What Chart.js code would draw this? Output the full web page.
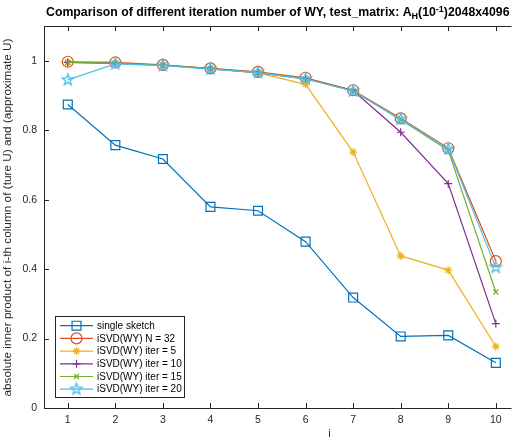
<!DOCTYPE html>
<html>
<head>
<meta charset="utf-8">
<script src="https://cdn.jsdelivr.net/npm/chart.js@4/dist/chart.umd.min.js"></script>
<style>
  html, body { margin: 0; padding: 0; background: #fff; }
  #wrap { width: 519px; height: 441px; position: relative; }
</style>
</head>
<body>
<div id="wrap"><canvas id="cmp"></canvas></div>
<script>
// --- data ---
const iVals = [1, 2, 3, 4, 5, 6, 7, 8, 9, 10];
const singleSketch = [0.874, 0.757, 0.717, 0.579, 0.568, 0.479, 0.318, 0.206, 0.209, 0.130];
const wyN32 = [0.997, 0.995, 0.988, 0.978, 0.968, 0.951, 0.915, 0.834, 0.748, 0.423];
const wyIter5 = [0.995, 0.993, 0.987, 0.977, 0.965, 0.932, 0.737, 0.438, 0.397, 0.177];
const wyIter10 = [0.995, 0.993, 0.987, 0.977, 0.966, 0.948, 0.914, 0.794, 0.646, 0.243];
const wyIter15 = [0.995, 0.993, 0.987, 0.977, 0.966, 0.948, 0.913, 0.830, 0.742, 0.334];
const wyIter20 = [0.945, 0.991, 0.986, 0.976, 0.966, 0.948, 0.913, 0.832, 0.746, 0.405];
const yTicks = [0, 0.2, 0.4, 0.6, 0.8, 1];
const seriesNames = ['single sketch', 'iSVD(WY) N = 32', 'iSVD(WY) iter = 5',
  'iSVD(WY) iter = 10', 'iSVD(WY) iter = 15', 'iSVD(WY) iter = 20'];

const FONT = '"Liberation Sans", Arial, Helvetica, sans-serif';
const AXIS = '#262626';

// pentagram marker (no built-in for it)
function makePentagram(color, r) {
  const c = document.createElement('canvas');
  const s = Math.ceil(r * 2 + 4);
  c.width = s; c.height = s;
  const g = c.getContext('2d');
  g.strokeStyle = color;
  g.lineWidth = 1.3;
  g.beginPath();
  for (let k = 0; k < 10; k++) {
    const rad = k % 2 === 0 ? r : r * 0.4;
    const a = -Math.PI / 2 + k * Math.PI / 5;
    const px = s / 2 + rad * Math.cos(a), py = s / 2 + rad * Math.sin(a);
    if (k === 0) g.moveTo(px, py); else g.lineTo(px, py);
  }
  g.closePath();
  g.stroke();
  return c;
}

const colors = ['#0072BD', '#D95319', '#EDB120', '#7E2F8E', '#77AC30', '#4DBEEE'];
const starImg = makePentagram(colors[5], 6);
const markers = [
  { style: 'rect', r: 6.3 },
  { style: 'circle', r: 5.5 },
  { style: 'star', r: 4 },
  { style: 'cross', r: 4 },
  { style: 'crossRot', r: 3.5 },
  { style: starImg, r: 6 }
];
const allSeries = [singleSketch, wyN32, wyIter5, wyIter10, wyIter15, wyIter20];

const datasets = allSeries.map((vals, k) => ({
  label: seriesNames[k],
  data: iVals.map((x, n) => ({ x: x, y: vals[n] })),
  borderColor: colors[k],
  borderWidth: 1.2,
  pointStyle: markers[k].style,
  pointRadius: markers[k].r,
  pointBorderColor: colors[k],
  pointBorderWidth: 1.2,
  pointBackgroundColor: 'rgba(0,0,0,0)',
  fill: false,
  tension: 0,
  order: allSeries.length - k
}));

function drawMarker(ctx, k, x, y) {
  const m = markers[k];
  if (typeof m.style !== 'string') {
    ctx.drawImage(m.style, x - m.style.width / 2, y - m.style.height / 2);
    return;
  }
  ctx.save();
  ctx.strokeStyle = colors[k];
  ctx.fillStyle = 'rgba(0,0,0,0)';
  ctx.lineWidth = 1.2;
  Chart.helpers.drawPoint(ctx, { pointStyle: m.style, radius: m.r, rotation: 0, borderWidth: 1.2 }, x, y);
  ctx.restore();
}

const frame = {
  id: 'frame',
  afterDraw(chart) {
    const ctx = chart.ctx;
    const a = chart.chartArea;
    const xs = chart.scales.x, ys = chart.scales.y;
    ctx.save();
    // axes box and inward ticks
    ctx.strokeStyle = AXIS;
    ctx.lineWidth = 1;
    ctx.beginPath();
    ctx.moveTo(a.left + 0.5, a.top + 0.5); ctx.lineTo(a.left + 0.5, a.bottom + 0.5);
    ctx.moveTo(a.left, a.bottom + 0.5); ctx.lineTo(a.right, a.bottom + 0.5);
    ctx.moveTo(a.left, a.top + 0.5); ctx.lineTo(a.right, a.top + 0.5);
    iVals.forEach(v => {
      const px = Math.round(xs.getPixelForValue(v)) + 0.5;
      ctx.moveTo(px, a.bottom); ctx.lineTo(px, a.bottom - 5);
      ctx.moveTo(px, a.top); ctx.lineTo(px, a.top + 5);
    });
    yTicks.forEach(v => {
      const py = Math.round(ys.getPixelForValue(v)) + 0.5;
      ctx.moveTo(a.left, py); ctx.lineTo(a.left + 5, py);
    });
    ctx.stroke();

    // legend box
    const lx = 55, ly = 316, lw = 129, lh = 81;
    ctx.fillStyle = '#fff';
    ctx.fillRect(lx, ly, lw, lh);
    ctx.strokeStyle = AXIS;
    ctx.strokeRect(lx + 0.5, ly + 0.5, lw, lh);
    ctx.font = '10px ' + FONT;
    ctx.textBaseline = 'middle';
    ctx.textAlign = 'left';
    seriesNames.forEach((name, k) => {
      const ry = 325.7 + k * 12.7;
      ctx.strokeStyle = colors[k];
      ctx.lineWidth = 1.2;
      ctx.beginPath();
      ctx.moveTo(60, ry); ctx.lineTo(93, ry);
      ctx.stroke();
      drawMarker(ctx, k, 76.5, ry);
      ctx.fillStyle = '#000';
      ctx.fillText(name, 97, ry + 0.5);
    });

    // title with sub/superscript
    const cx = (a.left + a.right) / 2;
    const base = 16;
    const big = 'bold 12.3px ' + FONT, small = 'bold 9px ' + FONT;
    const parts = [
      { t: 'Comparison of different iteration number of WY, test_matrix: A', f: big, dy: 0 },
      { t: 'H', f: small, dy: 3 },
      { t: '(10', f: big, dy: 0 },
      { t: '-1', f: small, dy: -4.5 },
      { t: ')2048x4096', f: big, dy: 0 }
    ];
    let total = 0;
    parts.forEach(p => { ctx.font = p.f; p.w = ctx.measureText(p.t).width; total += p.w; });
    let tx = cx - total / 2;
    ctx.fillStyle = '#000';
    ctx.textBaseline = 'alphabetic';
    parts.forEach(p => { ctx.font = p.f; ctx.fillText(p.t, tx, base + p.dy); tx += p.w; });

    // axis titles
    ctx.font = '11px ' + FONT;
    ctx.fillStyle = AXIS;
    ctx.textAlign = 'center';
    ctx.textBaseline = 'middle';
    ctx.fillText('i', xs.getPixelForValue(6.5), 434);
    ctx.font = '11.8px ' + FONT;
    ctx.translate(8, 217.5);
    ctx.rotate(-Math.PI / 2);
    ctx.fillText('absolute inner product of i-th column of (ture U) and (approximate U)', 0, 0);
    ctx.restore();
  }
};

new Chart(document.getElementById('cmp'), {
  type: 'line',
  data: { datasets: datasets },
  options: {
    responsive: true,
    maintainAspectRatio: false,
    animation: false,
    layout: { padding: { top: 26, right: 0, bottom: 0, left: 0 } },
    plugins: { legend: { display: false }, tooltip: { enabled: false }, title: { display: false } },
    scales: {
      x: {
        type: 'linear',
        min: 0.5,
        max: 10.33,
        afterBuildTicks: s => { s.ticks = iVals.map(v => ({ value: v })); },
        afterFit: s => { s.height = 33; },
        grid: { display: true, color: 'rgba(0,0,0,0)', drawOnChartArea: false, drawTicks: false },
        border: { display: false },
        ticks: { color: AXIS, font: { family: FONT, size: 10.5 }, padding: 6, maxRotation: 0, autoSkip: false }
      },
      y: {
        type: 'linear',
        min: 0,
        max: 1.1,
        afterBuildTicks: s => { s.ticks = yTicks.map(v => ({ value: v })); },
        afterFit: s => { s.width = 44; },
        grid: { display: true, color: 'rgba(0,0,0,0)', drawOnChartArea: false, drawTicks: false },
        border: { display: false },
        ticks: { color: AXIS, font: { family: FONT, size: 10.5 }, padding: 7, callback: v => String(Math.round(v * 10) / 10) }
      }
    }
  },
  plugins: [frame]
});
</script>
</body>
</html>
